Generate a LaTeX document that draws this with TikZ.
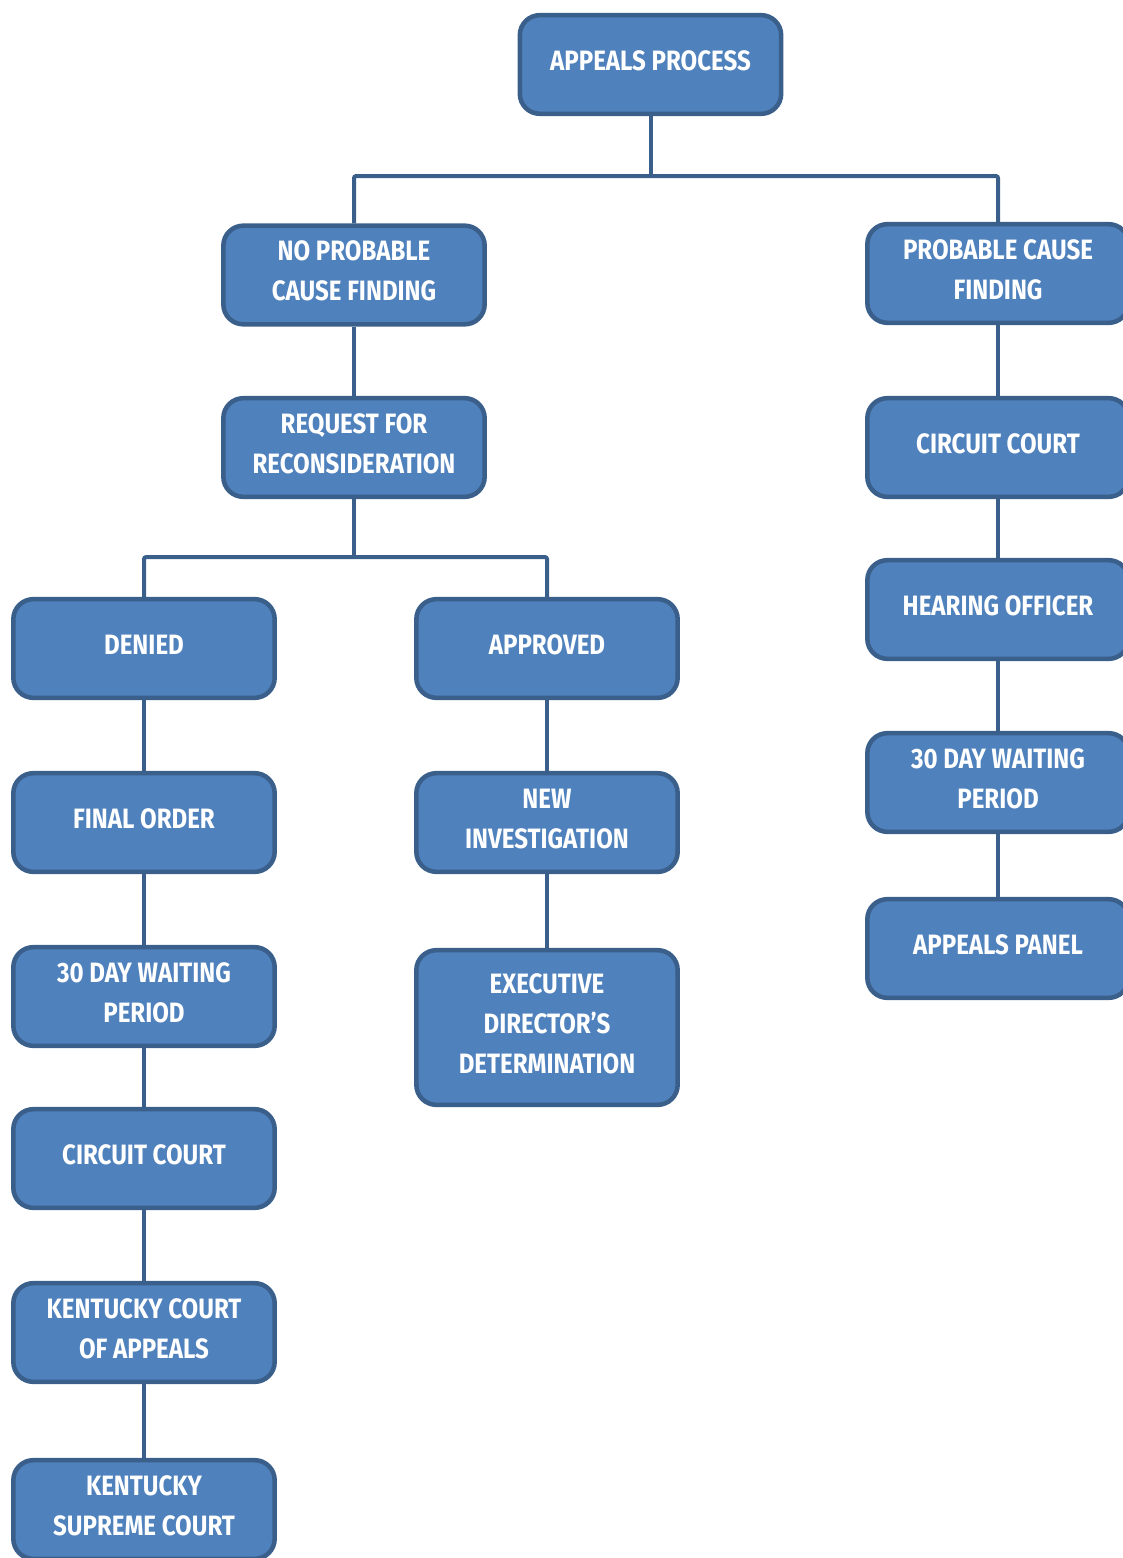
\documentclass[tikz,border=0pt]{standalone}
\usepackage{fontspec}
\newfontfamily\boxfont[FakeStretch=0.86]{Fira Sans}
\definecolor{boxfill}{HTML}{4F81BD}
\definecolor{boxline}{HTML}{3A5F8B}
\begin{document}
\begin{tikzpicture}[x=0.75pt,y=-0.75pt,
	stepbox/.style={draw=boxline,fill=boxfill,line width=3.4pt,rounded corners=15pt,
		minimum width=196pt,minimum height=74pt,align=center,text=white,
		font=\boxfont\bfseries\fontsize{21}{30}\selectfont,
		execute at end node={\rule[-6pt]{0pt}{6pt}}},
	tallbox/.style={stepbox,minimum height=116pt},
	link/.style={draw=boxline,line width=3pt,rounded corners=1.5pt}]
	\useasboundingbox (0,0) rectangle (1123,1558);
	% top level
	\node[stepbox] (root) at (650.5,64.5) {APPEALS PROCESS};
	\node[stepbox] (npc) at (354,275) {NO PROBABLE\\CAUSE FINDING};
	\node[stepbox] (pcf) at (998,273.5) {PROBABLE CAUSE\\FINDING};
	% no probable cause branch
	\node[stepbox] (recon) at (354,447.5) {REQUEST FOR\\RECONSIDERATION};
	\node[stepbox] (denied) at (144,648.5) {DENIED};
	\node[stepbox] (approved) at (547,648.5) {APPROVED};
	\node[stepbox] (final) at (144,822.5) {FINAL ORDER};
	\node[stepbox] (waitL) at (144,996.5) {30 DAY WAITING\\PERIOD};
	\node[stepbox] (courtL) at (144,1158.5) {CIRCUIT COURT};
	\node[stepbox] (kyappeals) at (144,1332.5) {KENTUCKY COURT\\OF APPEALS};
	\node[stepbox] (kysupreme) at (144,1509.5) {KENTUCKY\\SUPREME COURT};
	\node[stepbox] (newinv) at (547,822.5) {NEW\\INVESTIGATION};
	\node[tallbox] (execdir) at (547,1027.5) {EXECUTIVE\\DIRECTOR’S\\DETERMINATION};
	% probable cause branch
	\node[stepbox] (courtR) at (998,447.5) {CIRCUIT COURT};
	\node[stepbox] (hearing) at (998,609.5) {HEARING OFFICER};
	\node[stepbox] (waitR) at (998,782.5) {30 DAY WAITING\\PERIOD};
	\node[stepbox] (panel) at (998,948.5) {APPEALS PANEL};
	% connectors
	\path (root.south) ++(0,60) coordinate (forkA);
	\path (recon.south) ++(0,58) coordinate (forkB);
	\path[link] (root) -- (forkA);
	\path[link] (npc.north) |- (forkA) -| (pcf.north);
	\path[link] (npc) -- (recon);
	\path[link] (recon) -- (forkB);
	\path[link] (denied.north) |- (forkB) -| (approved.north);
	\path[link] (denied) -- (final);
	\path[link] (final) -- (waitL);
	\path[link] (waitL) -- (courtL);
	\path[link] (courtL) -- (kyappeals);
	\path[link] (kyappeals) -- (kysupreme);
	\path[link] (approved) -- (newinv);
	\path[link] (newinv) -- (execdir);
	\path[link] (pcf) -- (courtR);
	\path[link] (courtR) -- (hearing);
	\path[link] (hearing) -- (waitR);
	\path[link] (waitR) -- (panel);
\end{tikzpicture}
\end{document}
